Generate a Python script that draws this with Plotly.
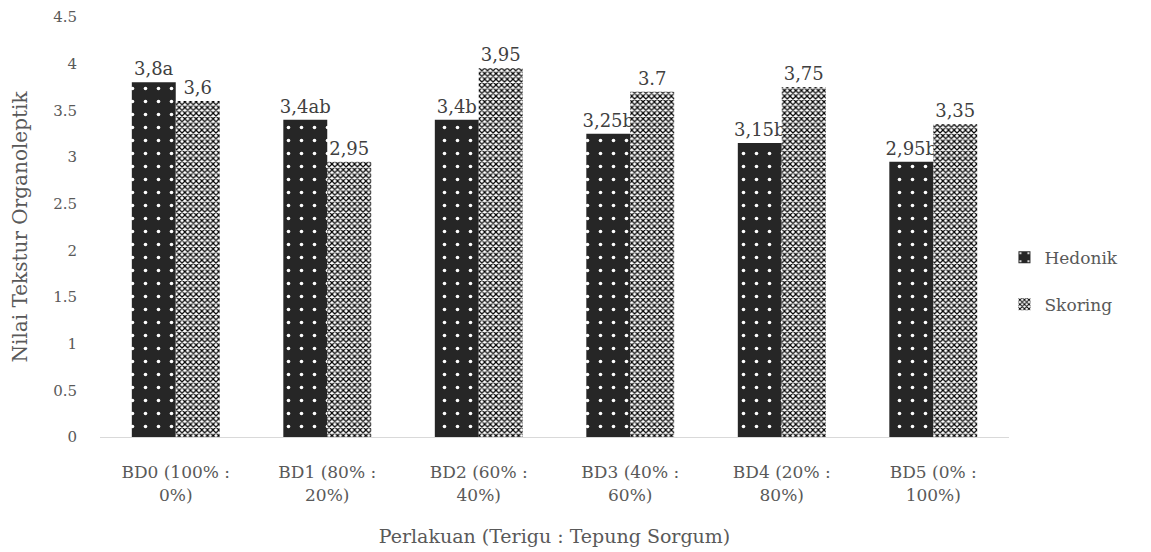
import plotly.graph_objects as go

categories = ["BD0 (100% :<br>0%)", "BD1 (80% :<br>20%)", "BD2 (60% :<br>40%)",
              "BD3 (40% :<br>60%)", "BD4 (20% :<br>80%)", "BD5 (0% :<br>100%)"]
hedonik = [3.8, 3.4, 3.4, 3.25, 3.15, 2.95]
skoring = [3.6, 2.95, 3.95, 3.7, 3.75, 3.35]
hedonik_labels = ["3,8a", "3,4ab", "3,4b", "3,25b", "3,15b", "2,95b"]
skoring_labels = ["3,6", "2,95", "3,95", "3.7", "3,75", "3,35"]
y_ticks = [0, 0.5, 1, 1.5, 2, 2.5, 3, 3.5, 4, 4.5]

FONT = "DejaVu Serif, serif"
GRAY = "#595959"

fig = go.Figure()
fig.add_trace(go.Bar(
    name="Hedonik", x=categories, y=hedonik, text=hedonik_labels,
    textposition="outside", cliponaxis=False, legendgroup="h",
    constraintext="none",
    textfont=dict(family=FONT, size=18, color="#404040"),
    marker=dict(color="#262626", line=dict(width=0),
                pattern=dict(shape=".", fgcolor="white", bgcolor="#262626",
                             size=13, solidity=0.06, fillmode="replace")),
))
fig.add_trace(go.Bar(
    name="Skoring", x=categories, y=skoring, text=skoring_labels,
    textposition="outside", cliponaxis=False, legendgroup="s",
    constraintext="none",
    textfont=dict(family=FONT, size=18, color="#404040"),
    marker=dict(color="white", line=dict(width=0),
                pattern=dict(shape="x", fgcolor="black", bgcolor="white",
                             size=4, solidity=0.5, fillmode="replace")),
))

fig.update_layout(
    width=1151, height=552,
    margin=dict(l=92, r=150, t=9, b=123, autoexpand=False),
    paper_bgcolor="white", plot_bgcolor="white",
    barmode="group", bargap=0.42, bargroupgap=0,
    font=dict(family=FONT, size=15, color=GRAY),
    legend=dict(x=0.995, y=0.371, xanchor="left", yanchor="middle",
                font=dict(family=FONT, size=17, color=GRAY),
                tracegroupgap=22, itemwidth=30),
    xaxis=dict(showgrid=False, showline=True, linecolor="#d9d9d9", linewidth=1,
               ticks="", automargin=False, ticklabelstandoff=20,
               tickfont=dict(family=FONT, size=17, color=GRAY),
               title=dict(text="Perlakuan (Terigu : Tepung Sorgum)",
                          font=dict(family=FONT, size=19, color=GRAY), standoff=26)),
    yaxis=dict(range=[0, 4.5], tickvals=y_ticks,
               ticktext=[str(v) for v in y_ticks], automargin=False,
               showgrid=False, zeroline=False, showline=False, ticks="",
               tickfont=dict(family=FONT, size=15, color=GRAY), ticklabelstandoff=22,
               title=dict(text="Nilai Tekstur Organoleptik",
                          font=dict(family=FONT, size=20, color=GRAY), standoff=34)),
)

fig.write_html("out.html")
